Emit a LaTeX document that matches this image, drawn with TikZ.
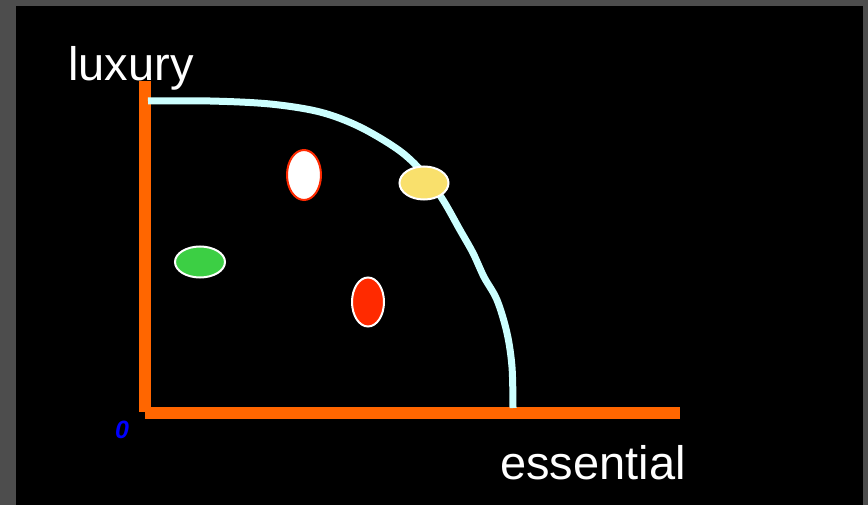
\documentclass[tikz,border=0pt]{standalone}
\usepackage{fontspec}
\setmainfont{Liberation Sans}
\usetikzlibrary{shapes.geometric}
\definecolor{framegray}{HTML}{4D4D4D}
\definecolor{axisorange}{HTML}{FF6600}
\definecolor{curvecyan}{HTML}{CCFFFF}
\definecolor{dotyellow}{HTML}{F9E06C}
\definecolor{dotgreen}{HTML}{3CCF44}
\definecolor{dotred}{HTML}{FF2A00}
\tikzset{
  axisline/.style={axisorange, line width=12pt},
  frontier/.style={curvecyan, line width=7pt},
  dot/.style={ellipse, draw=white, line width=2pt, inner sep=0pt},
  bigword/.style={text=white, font=\fontsize{47}{56}\selectfont, inner sep=0pt, anchor=base west},
}
\begin{document}
\begin{tikzpicture}[x=1pt, y=-1pt]
\useasboundingbox (0,0) rectangle (868,505);
\fill[framegray] (0,0) rectangle (868,505);
\fill[black] (16,6) rectangle (863,505);
% axes
\coordinate (top) at (145,81);
\coordinate (origin) at (145,413);
\coordinate (right) at (680,413);
\draw[axisline] (top) -- (145,412);
\draw[axisline] (origin) -- (right);
% frontier curve
\draw[frontier] plot[smooth, tension=0.55] coordinates {
  (148,101) (210,101) (270,104) (320,112) (360,127) (400,151) (425,175)
  (443,200) (460,230) (473,253) (484,277) (497,300) (507,333) (512,367) (513,408)};
% dots
\node[dot, draw=dotred, fill=white, minimum width=34pt, minimum height=50pt] (white) at (304,175) {};
\node[dot, fill=dotyellow, minimum width=49pt, minimum height=33pt] (yellow) at (424,183) {};
\node[dot, fill=dotgreen, minimum width=50pt, minimum height=31pt] (green) at (200,262) {};
\node[dot, fill=dotred, minimum width=32pt, minimum height=49pt] (red) at (368,302) {};
% labels
\node[bigword] (lux) at (68,81) {luxury};
\node[bigword] (ess) at (500,479) {essential};
\node[text=blue, font=\fontsize{25}{30}\selectfont\bfseries\itshape, inner sep=0pt] (zero) at (122,430) {0};
\end{tikzpicture}
\end{document}
